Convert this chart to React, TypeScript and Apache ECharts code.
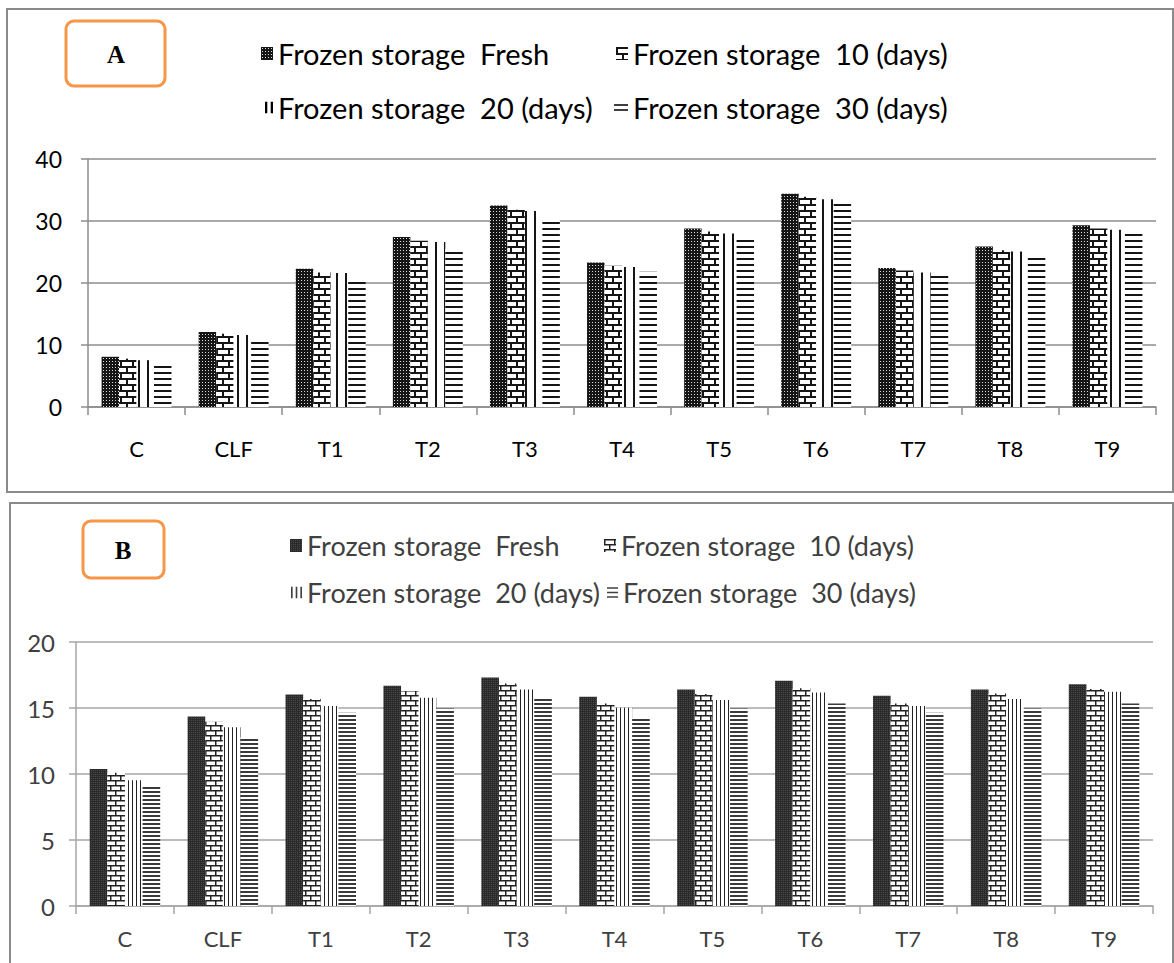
import React, { useEffect, useRef } from "react";
import * as echarts from "echarts";

const categories = ["C", "CLF", "T1", "T2", "T3", "T4", "T5", "T6", "T7", "T8", "T9"];
const seriesNames = [
  "Frozen storage  Fresh",
  "Frozen storage  10 (days)",
  "Frozen storage  20 (days)",
  "Frozen storage  30 (days)",
];

// Panel A values
const aFresh = [8.1, 12.1, 22.3, 27.4, 32.5, 23.3, 28.8, 34.4, 22.4, 25.9, 29.3];
const a10 = [7.8, 11.8, 21.7, 26.8, 31.8, 22.8, 28.3, 33.9, 22.0, 25.3, 28.8];
const a20 = [7.55, 11.6, 21.6, 26.6, 31.6, 22.6, 28.0, 33.5, 21.7, 25.1, 28.6];
const a30 = [6.85, 10.6, 20.6, 25.5, 30.5, 21.8, 27.5, 33.1, 21.2, 24.3, 28.0];

// Panel B values
const bFresh = [10.37, 14.36, 16.03, 16.69, 17.32, 15.85, 16.41, 17.07, 15.93, 16.41, 16.79];
const b10 = [10.1, 13.96, 15.68, 16.28, 16.86, 15.35, 16.06, 16.49, 15.35, 16.1, 16.43];
const b20 = [9.53, 13.55, 15.15, 15.78, 16.41, 15.02, 15.6, 16.18, 15.15, 15.68, 16.23];
const b30 = [9.08, 12.8, 14.64, 14.97, 15.73, 14.2, 14.97, 15.35, 14.64, 14.97, 15.35];

const FONT = "Lato";

function makePattern(w: number, h: number, draw: (ctx: CanvasRenderingContext2D) => void) {
  const c = document.createElement("canvas");
  c.width = w;
  c.height = h;
  const ctx = c.getContext("2d")!;
  ctx.fillStyle = "#ffffff";
  ctx.fillRect(0, 0, w, h);
  draw(ctx);
  return { image: c.toDataURL(), repeat: "repeat", imageWidth: w, imageHeight: h } as any;
}

function patternsA() {
  const fresh = makePattern(3, 3, (ctx) => {
    ctx.fillStyle = "#151515";
    ctx.fillRect(0, 0, 3, 3);
    ctx.fillStyle = "#d8d8d8";
    ctx.fillRect(1, 1, 1, 1);
  });
  const brick = makePattern(12, 12, (ctx) => {
    ctx.fillStyle = "#151515";
    ctx.fillRect(0, 0, 12, 2);
    ctx.fillRect(0, 6, 12, 2);
    ctx.fillRect(0, 0, 2, 6);
    ctx.fillRect(6, 6, 2, 6);
  });
  const vert = makePattern(9, 2, (ctx) => {
    ctx.fillStyle = "#151515";
    ctx.fillRect(3, 0, 2, 2);
  });
  const horiz = makePattern(2, 6, (ctx) => {
    ctx.fillStyle = "#151515";
    ctx.fillRect(0, 0, 2, 2);
  });
  return [fresh, brick, vert, horiz];
}

function patternsB() {
  const fresh = makePattern(2, 2, (ctx) => {
    ctx.fillStyle = "#2a2a2a";
    ctx.fillRect(0, 0, 2, 2);
    ctx.fillStyle = "#4a4a4a";
    ctx.fillRect(1, 1, 1, 1);
  });
  const brick = makePattern(10, 10, (ctx) => {
    ctx.fillStyle = "#222222";
    ctx.fillRect(0, 0, 10, 1.5);
    ctx.fillRect(0, 5, 10, 1.5);
    ctx.fillRect(0, 0, 1.5, 5);
    ctx.fillRect(5, 5, 1.5, 5);
  });
  const vert = makePattern(4, 2, (ctx) => {
    ctx.fillStyle = "#222222";
    ctx.fillRect(0, 0, 1, 2);
  });
  const horiz = makePattern(2, 4, (ctx) => {
    ctx.fillStyle = "#3a3a3a";
    ctx.fillRect(0, 0, 2, 2);
  });
  return [fresh, brick, vert, horiz];
}

type LegSpec = { left: number; top: number; w: number; h: number; icon?: string; iconColor?: string };

function buildLegends(specs: LegSpec[], fontSize: number, color: string) {
  return specs.map((s, i) => {
    const item: any = { name: seriesNames[i] };
    if (s.icon) {
      item.icon = s.icon;
      item.itemStyle = { color: s.iconColor || "#000000" };
    }
    return {
      data: [item],
      left: s.left,
      top: s.top,
      padding: 0,
      itemWidth: s.w,
      itemHeight: s.h,
      icon: "rect",
      selectedMode: false,
      textStyle: { fontSize, color, fontFamily: FONT },
    };
  });
}

function buildSeries(values: number[][], pats: any[]) {
  return values.map((v, i) => ({
    name: seriesNames[i],
    type: "bar",
    data: v,
    barGap: "0%",
    barCategoryGap: "28%",
    itemStyle: { color: pats[i] },
    emphasis: { disabled: true },
  }));
}

const ICON_TWO_VERT = "path://M0,0h2v10h-2zM5,0h2v10h-2z";
const ICON_TWO_HORIZ = "path://M0,0h14v1.6h-14zM0,5h14v1.6h-14z";
const ICON_THREE_VERT = "path://M0,0h1.4v10h-1.4zM4,0h1.4v10h-1.4zM8,0h1.4v10h-1.4z";
const ICON_THREE_HORIZ = "path://M0,0h10v1.4h-10zM0,4h10v1.4h-10zM0,8h10v1.4h-10z";

export default function App() {
  const refA = useRef<HTMLDivElement>(null);
  const refB = useRef<HTMLDivElement>(null);

  useEffect(() => {
    const chartA = echarts.init(refA.current!, null, { renderer: "svg" });
    const chartB = echarts.init(refB.current!, null, { renderer: "svg" });
    const pa = patternsA();
    const pb = patternsB();

    const gridColorA = "#8c8c8c";
    const optionA: any = {
      animation: false,
      backgroundColor: "#ffffff",
      grid: { left: 88, right: 18, top: 159, bottom: 88 },
      legend: buildLegends(
        [
          { left: 278 - 5 - 12, top: 39, w: 12, h: 13 },
          { left: 633 - 5 - 12, top: 39, w: 12, h: 13 },
          { left: 278 - 5 - 8, top: 93, w: 8, h: 12, icon: ICON_TWO_VERT },
          { left: 633 - 5 - 14, top: 93, w: 14, h: 8, icon: ICON_TWO_HORIZ },
        ],
        29,
        "#000000"
      ),
      xAxis: {
        type: "category",
        data: categories,
        axisLine: { show: true, lineStyle: { color: gridColorA, width: 1.5 } },
        axisTick: { show: true, length: 8, lineStyle: { color: gridColorA, width: 1.5 } },
        axisLabel: { fontSize: 22, color: "#000000", margin: 30, fontFamily: FONT },
      },
      yAxis: {
        type: "value",
        min: 0,
        max: 40,
        interval: 10,
        axisLine: { show: true, lineStyle: { color: gridColorA, width: 1.5 } },
        axisTick: { show: true, length: 7, lineStyle: { color: gridColorA, width: 1.5 } },
        axisLabel: { fontSize: 23, color: "#000000", margin: 26, fontFamily: FONT },
        splitLine: { show: true, lineStyle: { color: gridColorA, width: 1.5 } },
      },
      series: buildSeries([aFresh, a10, a20, a30], pa),
      graphic: [
        {
          type: "rect",
          silent: true,
          z: -1,
          shape: { x: 7, y: 9, width: 1166, height: 483 },
          style: { fill: "none", stroke: "#8a8a8a", lineWidth: 2 },
        },
        {
          type: "rect",
          silent: true,
          shape: { x: 66, y: 21, width: 99, height: 65, r: 8 },
          style: { fill: "#ffffff", stroke: "#f79646", lineWidth: 3 },
        },
        {
          type: "text",
          silent: true,
          x: 116,
          y: 54,
          style: {
            text: "A",
            fontSize: 25,
            fontWeight: "bold",
            fontFamily: "Liberation Serif",
            fill: "#000000",
            align: "center",
            verticalAlign: "middle",
          },
        },
      ],
    };

    const gridColorB = "#a6a6a6";
    const optionB: any = {
      animation: false,
      backgroundColor: "#ffffff",
      grid: { left: 76, right: 21, top: 147, bottom: 57 },
      legend: buildLegends(
        [
          { left: 307 - 5 - 12, top: 37, w: 12, h: 13 },
          { left: 621 - 5 - 12, top: 37, w: 12, h: 13 },
          { left: 307 - 5 - 11, top: 84, w: 11, h: 12, icon: ICON_THREE_VERT, iconColor: "#404040" },
          { left: 623 - 5 - 11, top: 84, w: 11, h: 11, icon: ICON_THREE_HORIZ, iconColor: "#404040" },
        ],
        27,
        "#404040"
      ),
      xAxis: {
        type: "category",
        data: categories,
        axisLine: { show: true, lineStyle: { color: gridColorB, width: 1.5 } },
        axisTick: { show: true, length: 8, lineStyle: { color: gridColorB, width: 1.5 } },
        axisLabel: { fontSize: 22, color: "#404040", margin: 21, fontFamily: FONT },
      },
      yAxis: {
        type: "value",
        min: 0,
        max: 20,
        interval: 5,
        axisLine: { show: true, lineStyle: { color: gridColorB, width: 1.5 } },
        axisTick: { show: true, length: 7, lineStyle: { color: gridColorB, width: 1.5 } },
        axisLabel: { fontSize: 24, color: "#404040", margin: 21, fontFamily: FONT },
        splitLine: { show: true, lineStyle: { color: gridColorB, width: 1.5 } },
      },
      series: buildSeries([bFresh, b10, b20, b30], pb),
      graphic: [
        {
          type: "rect",
          silent: true,
          z: -1,
          shape: { x: 10, y: 8, width: 1163, height: 480 },
          style: { fill: "none", stroke: "#8a8a8a", lineWidth: 2 },
        },
        {
          type: "rect",
          silent: true,
          shape: { x: 83, y: 26, width: 81, height: 57, r: 8 },
          style: { fill: "#ffffff", stroke: "#f79646", lineWidth: 3 },
        },
        {
          type: "text",
          silent: true,
          x: 123,
          y: 55,
          style: {
            text: "B",
            fontSize: 25,
            fontWeight: "bold",
            fontFamily: "Liberation Serif",
            fill: "#000000",
            align: "center",
            verticalAlign: "middle",
          },
        },
      ],
    };

    chartA.setOption(optionA);
    chartB.setOption(optionB);
    return () => {
      chartA.dispose();
      chartB.dispose();
    };
  }, []);

  return (
    <div
      style={{
        position: "absolute",
        left: 0,
        top: 0,
        width: 1174,
        height: 963,
        background: "#ffffff",
        overflow: "hidden",
      }}
    >
      <div ref={refA} style={{ position: "absolute", left: 0, top: 0, width: 1174, height: 495 }} />
      <div ref={refB} style={{ position: "absolute", left: 0, top: 495, width: 1174, height: 468 }} />
    </div>
  );
}
